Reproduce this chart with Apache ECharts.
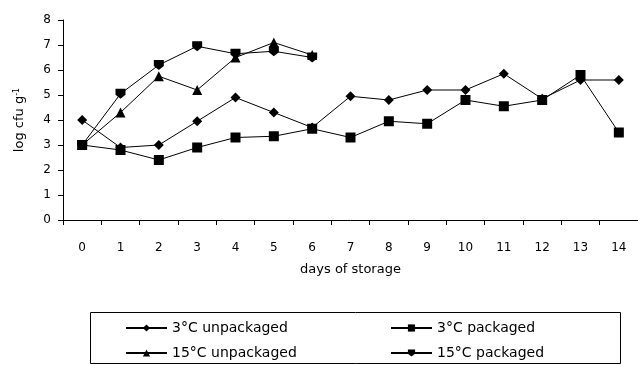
<!DOCTYPE html>
<html>
<head>
<meta charset="utf-8">
<script src="https://cdn.jsdelivr.net/npm/echarts@6/dist/echarts.min.js"></script>
<style>html,body{margin:0;padding:0;background:#fff}#c{width:638px;height:365px}</style>
</head>
<body>
<div id="c"></div>
<script>
var days = ['0','1','2','3','4','5','6','7','8','9','10','11','12','13','14'];
var yTicks = [0,1,2,3,4,5,6,7,8];
var names = ['3°C unpackaged','3°C packaged','15°C unpackaged','15°C packaged'];
var unpack3 = [4.0, 2.9, 3.0, 3.95, 4.9, 4.3, 3.7, 4.95, 4.8, 5.2, 5.2, 5.85, 4.85, 5.6, 5.6];
var pack3   = [3.0, 2.8, 2.4, 2.9, 3.3, 3.35, 3.65, 3.3, 3.95, 3.85, 4.8, 4.55, 4.8, 5.8, 3.5];
var unpack15 = [3.0, 4.3, 5.75, 5.2, 6.5, 7.1, 6.6];
var pack15   = [3.0, 5.05, 6.2, 6.95, 6.65, 6.75, 6.5];

var font = 'DejaVu Sans';
var chart = echarts.init(document.getElementById('c'));
function ser(name, data, symbol, size) {
  return {
    name: name, type: 'line', data: data, symbol: symbol, symbolSize: size,
    showAllSymbol: true, animation: false,
    lineStyle: {color: '#000', width: 1},
    itemStyle: {color: '#000', borderColor: '#000', borderWidth: 0}
  };
}
function leg(name, left, top) {
  return {orient: 'horizontal', left: left, top: top, padding: 0, itemWidth: 41, itemHeight: 9,
    data: [name], textStyle: {fontFamily: font, fontSize: 14, color: '#000'}};
}
var houseDown = 'path://M0,0L10,0L10,6L5,10L0,6Z';
chart.setOption({
  backgroundColor: '#fff',
  animation: false,
  grid: {left: 63, right: -8, top: 20, bottom: 145, containLabel: false},
  xAxis: {
    type: 'category', data: days, boundaryGap: true,
    name: 'days of storage', nameLocation: 'middle', nameGap: 43,
    nameTextStyle: {fontFamily: font, fontSize: 13, color: '#000'},
    axisLine: {lineStyle: {color: '#000', width: 1}},
    axisTick: {show: true, alignWithLabel: false, length: 5, lineStyle: {color: '#000'}},
    axisLabel: {fontFamily: font, fontSize: 12, color: '#000', margin: 22, interval: 0},
    splitLine: {show: false}
  },
  yAxis: {
    type: 'value', min: 0, max: 8, interval: 1,
    name: '{a|log cfu g}{b|-1}', nameLocation: 'middle', nameGap: 36, nameRotate: 90,
    nameTextStyle: {
      color: '#000',
      rich: {
        a: {fontFamily: font, fontSize: 13, color: '#000'},
        b: {fontFamily: font, fontSize: 8, color: '#000', verticalAlign: 'top', padding: [0,0,6,0]}
      }
    },
    axisLine: {show: true, lineStyle: {color: '#000', width: 1}},
    axisTick: {show: true, length: 5, lineStyle: {color: '#000'}},
    axisLabel: {fontFamily: font, fontSize: 12, color: '#000', margin: 12,
      formatter: function (v) { return yTicks.indexOf(v) >= 0 ? String(v) : ''; }},
    splitLine: {show: false}
  },
  legend: [
    leg(names[0], 125, 321),
    leg(names[2], 125, 346),
    leg(names[1], 390, 321),
    leg(names[3], 390, 346)
  ],
  graphic: [{
    type: 'rect', shape: {x: 90.5, y: 312.5, width: 530, height: 51},
    style: {fill: 'none', stroke: '#000', lineWidth: 1}, z: 0
  }],
  series: [
    ser(names[0], unpack3, 'diamond', 10),
    ser(names[1], pack3, 'rect', 10),
    ser(names[2], unpack15, 'triangle', 10),
    ser(names[3], pack15, houseDown, 10)
  ]
});
</script>
</body>
</html>
